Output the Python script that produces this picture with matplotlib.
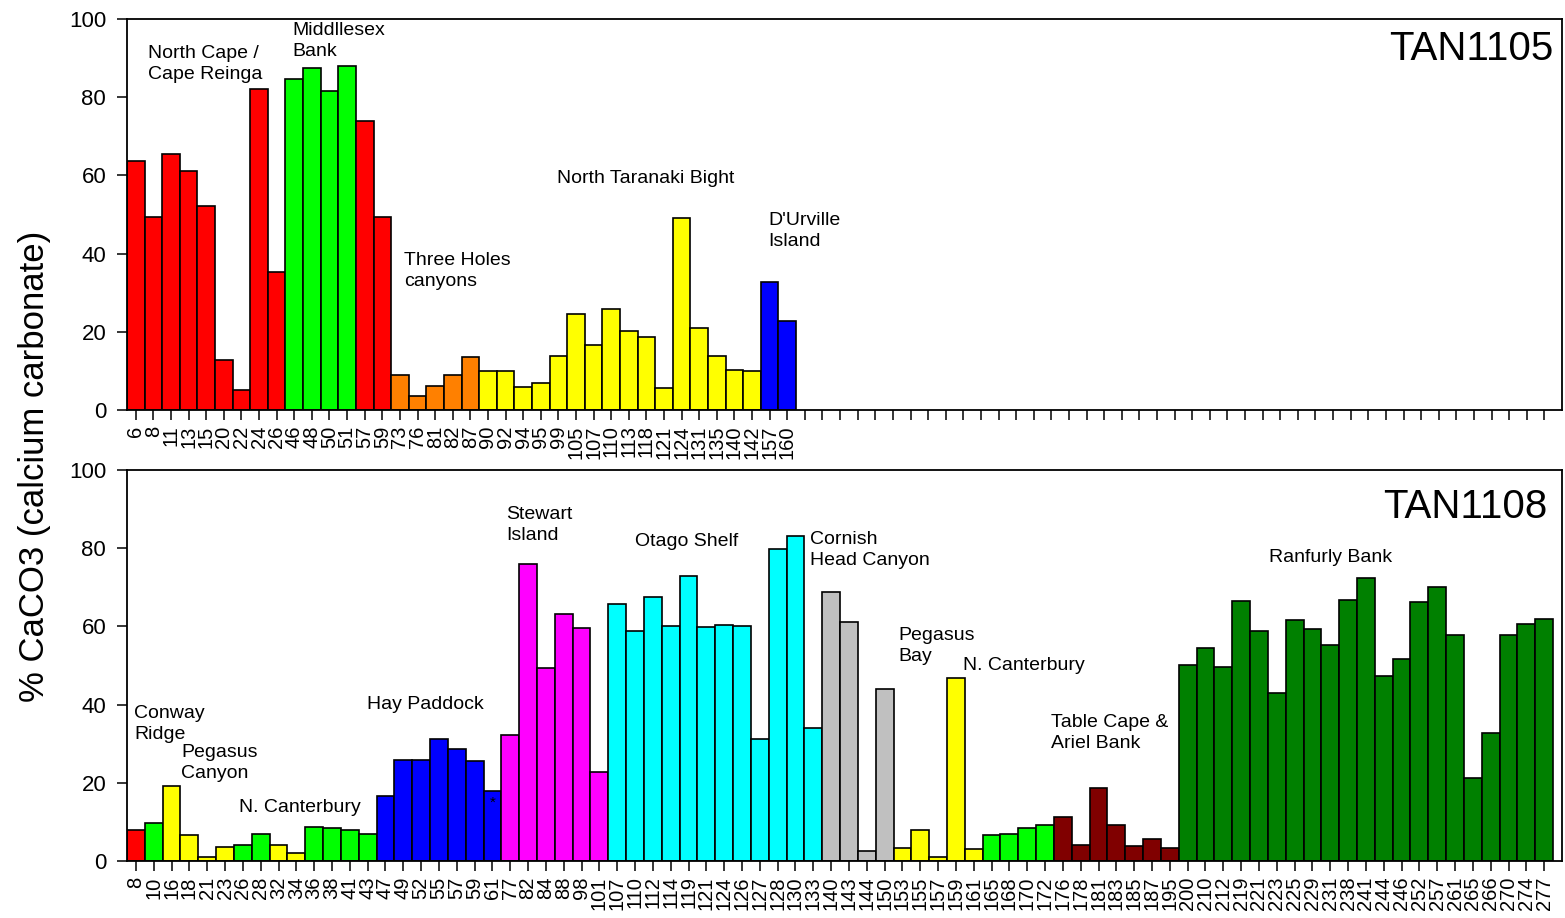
import matplotlib
matplotlib.use("Agg")
import matplotlib.pyplot as plt

plt.rcParams['font.family'] = ['Liberation Sans', 'DejaVu Sans']

# ---- TAN1105 voyage ----
top_stations = ["6", "8", "11", "13", "15", "20", "22", "24", "26", "46", "48", "50",
                "51", "57", "59", "73", "76", "81", "82", "87", "90", "92", "94", "95",
                "99", "105", "107", "110", "113", "118", "121", "124", "131", "135",
                "140", "142", "157", "160"]
top_caco3 = [63.8, 49.4, 65.6, 61.1, 52.3, 12.9, 5.1, 82.0, 35.2, 84.7, 87.4, 81.7,
             88.1, 73.8, 49.4, 9.0, 3.7, 6.2, 9.0, 13.5, 10.1, 10.1, 6.0, 6.8,
             13.7, 24.5, 16.6, 25.8, 20.1, 18.7, 5.5, 49.1, 20.9, 13.7,
             10.2, 10.1, 32.8, 22.8]
top_group = ["R", "R", "R", "R", "R", "R", "R", "R", "R", "G", "G", "G",
             "G", "R", "R", "O", "O", "O", "O", "O", "Y", "Y", "Y", "Y",
             "Y", "Y", "Y", "Y", "Y", "Y", "Y", "Y", "Y", "Y",
             "Y", "Y", "B", "B"]
top_slots = 81

# ---- TAN1108 voyage ----
bottom_stations = ["8", "10", "16", "18", "21", "23", "26", "28", "32", "34", "36", "38",
                   "41", "43", "47", "49", "52", "55", "57", "59", "61", "77", "82", "84",
                   "88", "98", "101", "107", "110", "112", "114", "119", "121", "124",
                   "126", "127", "128", "130", "133", "140", "143", "144", "150", "153",
                   "155", "157", "159", "161", "165", "168", "170", "172", "176", "178",
                   "181", "183", "185", "187", "195", "200", "210", "212", "219", "221",
                   "223", "225", "229", "231", "238", "241", "244", "246", "252", "257",
                   "261", "265", "266", "270", "274", "277"]
bottom_caco3 = [7.9, 9.8, 19.1, 6.6, 1.1, 3.7, 4.1, 6.9, 4.1, 2.1, 8.8, 8.4,
                7.9, 6.9, 16.6, 25.8, 25.8, 31.2, 28.6, 25.6, 17.9, 32.1, 76.0, 49.3,
                63.1, 59.7, 22.8, 65.7, 58.9, 67.5, 60.0, 72.9, 59.8, 60.4,
                60.2, 31.3, 79.7, 83.1, 34.0, 68.9, 61.0, 2.6, 43.9, 3.2,
                7.9, 0.9, 46.7, 3.0, 6.6, 6.9, 8.5, 9.1, 11.3, 4.1,
                18.6, 9.2, 3.8, 5.6, 3.4, 50.1, 54.4, 49.7, 66.5, 58.9,
                42.9, 61.6, 59.3, 55.3, 66.8, 72.4, 47.4, 51.7, 66.2, 70.0,
                57.8, 21.2, 32.7, 57.8, 60.5, 61.9]
bottom_group = ["R", "G", "Y", "Y", "Y", "Y", "G", "G", "Y", "Y", "G", "G",
                "G", "G", "B", "B", "B", "B", "B", "B", "B", "M", "M", "M",
                "M", "M", "M", "C", "C", "C", "C", "C", "C", "C",
                "C", "C", "C", "C", "C", "S", "S", "S", "S", "Y",
                "Y", "Y", "Y", "Y", "G", "G", "G", "G", "D", "D",
                "D", "D", "D", "D", "D", "K", "K", "K", "K", "K",
                "K", "K", "K", "K", "K", "K", "K", "K", "K", "K",
                "K", "K", "K", "K", "K", "K"]
bottom_slots = 80

palette = {"R": "#FF0000", "G": "#00FF00", "O": "#FF8000", "Y": "#FFFF00",
           "B": "#0000FF", "M": "#FF00FF", "C": "#00FFFF", "S": "#C0C0C0",
           "D": "#800000", "K": "#008000"}

# Region labels: (text, x, y) in data units of each panel
top_regions = [("North Cape /\nCape Reinga", 0.69, 88.5),
               ("Middllesex\nBank", 8.9, 94.4),
               ("Three Holes\ncanyons", 15.24, 35.5),
               ("North Taranaki Bight", 23.9, 59.3),
               ("D'Urville\nIsland", 35.9, 45.8)]
bottom_regions = [("Conway\nRidge", -0.11, 35.0),
                  ("Pegasus\nCanyon", 2.53, 25.1),
                  ("N. Canterbury", 5.78, 13.8),
                  ("Hay Paddock", 12.96, 39.9),
                  ("Stewart\nIsland", 20.76, 85.9),
                  ("Otago Shelf", 27.99, 81.8),
                  ("Cornish\nHead Canyon", 37.81, 79.5),
                  ("Pegasus\nBay", 42.8, 55.0),
                  ("N. Canterbury", 46.39, 50.1),
                  ("Table Cape &\nAriel Bank", 51.32, 32.7),
                  ("Ranfurly Bank", 63.55, 77.5)]

W, H = 1565, 918
fig = plt.figure(figsize=(W / 100, H / 100), dpi=100)
left = 127 / W
width = 1435 / W
ax_top = fig.add_axes([left, (H - 410) / H, width, 391 / H])
ax_bot = fig.add_axes([left, (H - 861) / H, width, 391 / H])


def draw_panel(ax, stations, values, groups, nslots, regions, title, title_xy):
    xs = list(range(len(values)))
    colors = [palette[g] for g in groups]
    ax.bar(xs, values, width=1.0, color=colors, edgecolor="black",
           linewidth=1.2, zorder=2)
    ax.set_xlim(-0.5, nslots)
    ax.set_ylim(0, 100)
    ax.set_yticks([0, 20, 40, 60, 80, 100])
    ax.tick_params(axis="y", direction="out", length=7, width=1.1,
                   labelsize=16, pad=8)
    ax.set_xticks(list(range(nslots)))
    labels = list(stations) + [""] * (nslots - len(stations))
    ax.set_xticklabels(labels, rotation=90, fontsize=14.5)
    ax.tick_params(axis="x", direction="out", length=7, width=1.1, pad=4)
    for sp in ax.spines.values():
        sp.set_linewidth(1.3)
        sp.set_color("black")
    for text, x, y in regions:
        ax.text(x, y, text, ha="left", va="center", fontsize=14,
                linespacing=1.3, zorder=3)
    ax.text(title_xy[0], title_xy[1], title, transform=ax.transAxes,
            ha="right", va="center", fontsize=29)


draw_panel(ax_top, top_stations, top_caco3, top_group, top_slots,
           top_regions, "TAN1105", (0.9937, 0.923))
draw_panel(ax_bot, bottom_stations, bottom_caco3, bottom_group, bottom_slots,
           bottom_regions, "TAN1108", (0.990, 0.905))

# station 61 flagged sample
ax_bot.text(20, 15.0, "*", ha="center", va="center", fontsize=11, zorder=3)

fig.text(35 / W, (H - 466) / H, "% CaCO3 (calcium carbonate)", rotation=90,
         ha="center", va="center", fontsize=25)

fig.savefig("out.png", dpi=100)
